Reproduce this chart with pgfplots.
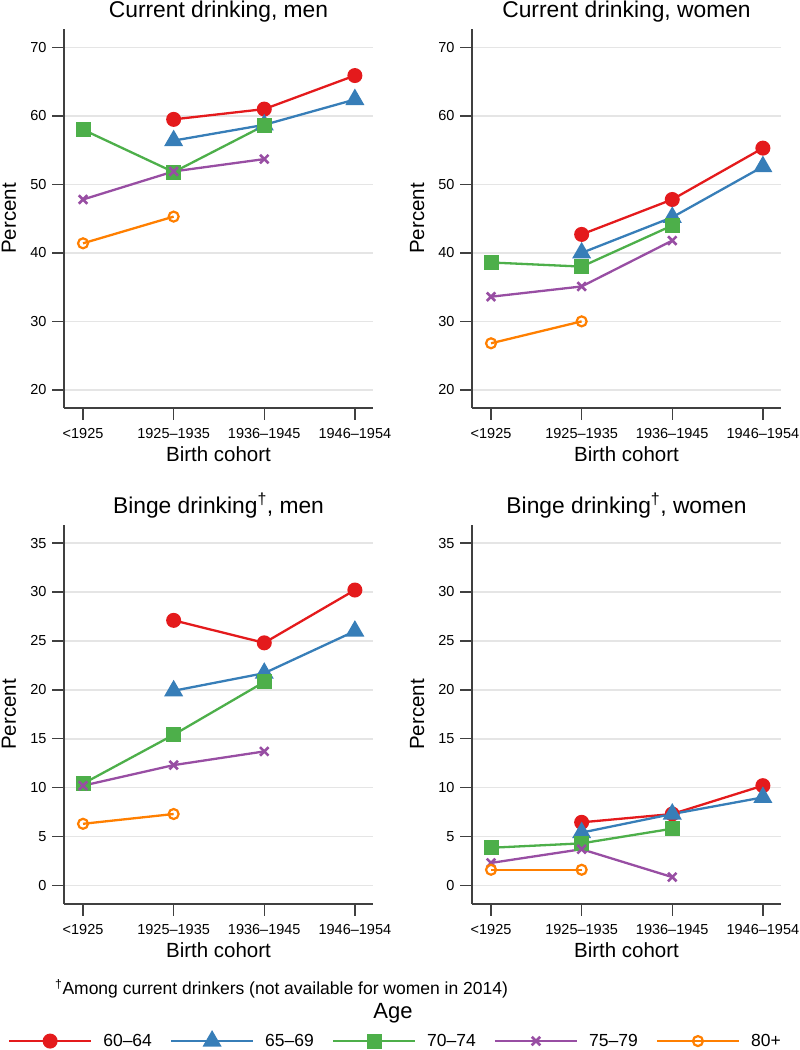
\documentclass[border=0pt]{standalone}
\usepackage{fontspec}
\setmainfont{Liberation Sans}
\usepackage{pgfplots}
\pgfplotsset{compat=1.18}
\definecolor{cR}{HTML}{E41A1C}
\definecolor{cB}{HTML}{377EB8}
\definecolor{cG}{HTML}{4DAF4A}
\definecolor{cP}{HTML}{984EA3}
\definecolor{cO}{HTML}{FF7F00}
\definecolor{axc}{HTML}{404040}
\pgfplotsset{
  sR/.style={cR, line width=2.3bp, mark=*, mark size=6.5bp, mark options={solid, fill=cR, line width=2bp}},
  sB/.style={cB, line width=2.3bp, mark=triangle*, mark size=9bp, mark options={solid, fill=cB, line width=2bp}},
  sG/.style={cG, line width=2.3bp, mark=square*, mark size=6.5bp, mark options={solid, fill=cG, line width=2bp}},
  sP/.style={cP, line width=2.3bp, mark=x, mark size=6bp, mark options={solid, line width=2.6bp}},
  sO/.style={cO, line width=2.3bp, mark=o, mark size=5bp, mark options={solid, line width=2.2bp}},
  myaxis/.style={
    scale only axis, width=309bp, height=379bp,
    axis x line=bottom, axis y line=left,
    axis line style={-, draw=axc, line width=1.5bp},
    tick align=outside, major tick length=12bp,
    major tick style={draw=axc, line width=1.5bp},
    xtick={0,1,2,3},
    xticklabels={<1925,1925–1935,1936–1945,1946–1954},
    xmin=-0.21, xmax=3.2,
    ymajorgrids, grid style={draw=black!10, line width=1.6bp},
    /pgf/number format/assume math mode=true,
    tick label style={font=\fontsize{14.5bp}{16bp}\selectfont},
    xticklabel style={yshift=-5bp},
    yticklabel style={xshift=-2bp},
    xlabel={Birth cohort},
    ylabel={Percent},
    label style={font=\fontsize{20.5bp}{24bp}\selectfont},
    xlabel style={at={(axis description cs:0.5,0)}, anchor=base, yshift=-53.7bp},
    ylabel style={at={(axis description cs:0,0.5)}, anchor=base, yshift=48bp},
    title style={font=\fontsize{22.8bp}{26bp}\selectfont, at={(axis description cs:0.5,1)}, anchor=base, yshift=6bp},
    clip=false,
  },
  curr/.style={ymin=17.35, ymax=72.7, ytick={20,30,40,50,60,70}},
  binge/.style={ymin=-1.9, ymax=36.85, ytick={0,5,10,15,20,25,30,35}},
}
\begin{document}
\begin{tikzpicture}
\useasboundingbox (0,0) rectangle (800bp,1050bp);
% Current drinking, men
\begin{axis}[myaxis, curr, at={(64bp,642bp)}, anchor=south west, title={Current drinking, men}]
\addplot[sR] coordinates {(1,59.5) (2,61.0) (3,65.9)};
\addplot[sB] coordinates {(1,56.4) (2,58.7) (3,62.4)};
\addplot[sG] coordinates {(0,58.0) (1,51.8) (2,58.6)};
\addplot[sP] coordinates {(0,47.8) (1,51.9) (2,53.7)};
\addplot[sO] coordinates {(0,41.4) (1,45.3)};
\end{axis}
% Current drinking, women
\begin{axis}[myaxis, curr, at={(472bp,642bp)}, anchor=south west, title={Current drinking, women}]
\addplot[sR] coordinates {(1,42.7) (2,47.8) (3,55.3)};
\addplot[sB] coordinates {(1,40.0) (2,45.2) (3,52.6)};
\addplot[sG] coordinates {(0,38.6) (1,38.0) (2,44.0)};
\addplot[sP] coordinates {(0,33.6) (1,35.1) (2,41.8)};
\addplot[sO] coordinates {(0,26.8) (1,30.0)};
\end{axis}
% Binge drinking, men
\begin{axis}[myaxis, binge, at={(64bp,146bp)}, anchor=south west, title={Binge drinking\textsuperscript{\textdagger}, men},
  legend columns=5,
  legend image code/.code={\draw[mark repeat=2, mark phase=2, #1] plot coordinates {(0bp,0bp) (41bp,0bp) (82bp,0bp)};},
  legend style={draw=none, fill=none, inner sep=0pt, outer sep=0pt,
    at={(axis description cs:0,0)}, anchor=west, xshift=-56bp, yshift=-137bp,
    font=\fontsize{17.5bp}{20bp}\selectfont,
    /tikz/every odd column/.append style={column sep=9bp},
    /tikz/every even column/.append style={column sep=16bp}},
  ]
\addplot[sR] coordinates {(1,27.1) (2,24.8) (3,30.2)};
\addplot[sB] coordinates {(1,19.9) (2,21.7) (3,26.0)};
\addplot[sG] coordinates {(0,10.4) (1,15.4) (2,20.8)};
\addplot[sP] coordinates {(0,10.2) (1,12.3) (2,13.7)};
\addplot[sO] coordinates {(0,6.3) (1,7.3)};
\legend{60–64,65–69,70–74,75–79,80+}
\end{axis}
% Binge drinking, women
\begin{axis}[myaxis, binge, at={(472bp,146bp)}, anchor=south west, title={Binge drinking\textsuperscript{\textdagger}, women}]
\addplot[sR] coordinates {(1,6.45) (2,7.3) (3,10.2)};
\addplot[sB] coordinates {(1,5.4) (2,7.3) (3,9.0)};
\addplot[sG] coordinates {(0,3.85) (1,4.3) (2,5.8)};
\addplot[sP] coordinates {(0,2.3) (1,3.7) (2,0.85)};
\addplot[sO] coordinates {(0,1.6) (1,1.6)};
\end{axis}
\node[anchor=base west, inner sep=0pt, font=\fontsize{17.5bp}{20bp}\selectfont] at (55bp,55bp) {\textsuperscript{\textdagger}Among current drinkers (not available for women in 2014)};
\node[anchor=base, inner sep=0pt, font=\fontsize{22bp}{26bp}\selectfont] at (393bp,32bp) {Age};
\end{tikzpicture}
\end{document}
